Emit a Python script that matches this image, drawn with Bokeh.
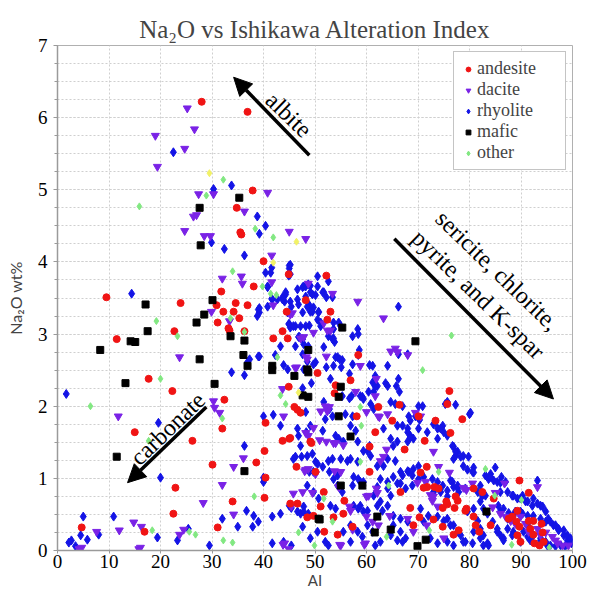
from bokeh.plotting import figure
from bokeh.models import Range1d, SingleIntervalTicker, Legend, LegendItem, Arrow, NormalHead, Label
from bokeh.embed import file_html
from bokeh.resources import INLINE

# ---------------- data (AI, Na2O wt%) ----------------
andesite = [
    (28.0,6.22),(36.9,6.08),(37.9,4.99),(34.8,4.75),(35.5,4.41),(35.7,4.38),(40.0,4.01),(44.9,3.83),
    (38.1,3.66),(31.8,3.59),(9.5,3.51),(11.5,2.93),(23.9,3.43),(22.7,3.04),(30.9,3.40),(31.1,3.16),
    (32.2,3.31),(33.2,3.08),(33.4,3.05),(34.6,3.43),(34.2,3.31),(35.3,3.22),(36.9,3.40),(36.3,3.04),
    (17.7,2.38),(22.3,2.21),(32.4,2.09),(15.0,1.64),(26.2,1.52),(32.0,1.69),(30.1,1.19),(22.9,0.87),
    (22.5,0.51),(4.7,0.32),(16.9,0.26),(31.1,0.32),(34.0,0.68),(38.6,1.22),(40.2,1.38),(40.4,1.01),
    (40.2,0.73),(40.4,1.77),(43.7,1.52),(45.0,1.55),(46.0,1.99),(46.6,1.95),(44.9,2.27),(46.4,1.16),
    (46.6,0.65),(48.5,0.46),(49.7,0.48),(49.1,1.51),(49.3,1.49),(50.1,1.09),(44.5,3.31),(43.7,3.04),
    (44.7,2.94),(41.9,2.94),(48.2,3.47),(52.2,3.81),(53.0,3.31),(52.4,3.20),(58.4,2.71),(50.5,2.46),
    (56.9,2.36),(54.0,2.29),(53.8,2.18),(76.1,2.21),(62.3,1.99),(66.4,2.02),(73.4,1.80),(78.6,1.82),
    (70.1,1.86),(58.1,1.86),(61.7,1.64),(76.3,1.63),(71.3,1.52),(67.4,1.40),(60.6,1.09),(71.7,1.16),
    (51.7,0.81),(55.7,0.69),(51.1,0.61),(53.6,0.46),(55.5,0.51),(57.3,0.33),(66.6,0.81),(68.5,0.59),
    (69.1,0.35),(74.8,0.59),(75.7,0.64),(79.4,0.58),(80.8,0.86),(71.8,0.88),(80.8,0.47),(84.7,0.72),
    (89.7,0.97),(91.5,0.80),(92.4,0.41),(94.0,0.37),(93.6,0.07),(94.4,0.12),(87.6,0.44),(82.5,0.81),
    (47.2,1.91),(65.0,1.80),(60.6,1.44),(45.2,1.56),(75.7,2.03),(70.5,1.08),(71.1,0.87),(73.2,0.88),
    (74.0,0.86),(75.5,0.68),(77.7,0.69),(77.1,0.59),(51.8,0.26),(54.4,0.22),(70.3,0.46),(73.0,0.43),
    (76.9,0.22),(45.2,0.65),(77.3,0.75),(79.2,0.55),(81.2,0.35),(84.1,0.35),(88.3,0.47),(89.1,0.40),
    (89.7,0.33),(89.3,0.21),(89.9,0.12),(91.8,0.30),(92.4,0.22),(92.6,0.10),(94.2,0.25),(89.3,0.55),
    (91.5,0.41),(77.9,0.28),(81.9,0.26),(74.8,0.33),
]

dacite = [
    (25.2,6.13),(26.6,5.84),(19.0,5.75),(24.7,5.57),(19.4,5.32),(27.4,4.94),(30.3,4.94),(40.8,4.96),
    (36.3,4.70),(26.4,4.63),(27.0,4.65),(24.7,4.43),(28.5,4.36),(29.7,4.36),(45.0,4.42),(48.2,4.32),
    (41.6,4.09),(32.0,3.77),(35.7,3.80),(35.9,3.70),(41.6,3.72),(48.7,3.70),(29.9,3.31),(33.4,3.18),
    (23.7,2.68),(11.8,1.86),(30.3,2.07),(30.5,1.98),(31.5,1.91),(36.1,1.28),(34.2,1.16),(32.0,0.91),
    (28.3,0.66),(34.2,0.50),(14.8,0.39),(16.3,0.33),(12.0,0.28),(7.6,0.26),(4.7,0.04),(16.1,0.04),
    (23.7,0.22),(24.5,0.29),(43.9,1.86),(46.4,2.54),(43.7,2.24),(44.1,0.10),(47.6,0.81),(45.4,0.61),
    (48.2,1.63),(48.7,1.59),(48.7,1.13),(51.1,1.93),(49.7,3.02),(48.5,2.65),(41.9,3.40),(45.6,3.29),
    (47.2,2.94),(47.8,2.96),(53.4,3.56),(58.3,3.45),(63.3,3.22),(52.4,3.05),(53.0,3.05),(51.7,3.15),
    (45.2,3.27),(52.2,2.69),(48.3,2.68),(58.8,2.56),(64.7,2.76),(65.6,2.80),(66.0,2.75),(68.0,2.71),
    (46.2,2.53),(61.9,2.38),(61.7,2.14),(57.9,2.20),(62.5,1.85),(64.1,1.89),(52.2,1.51),(53.6,1.49),
    (55.5,1.46),(48.2,1.12),(54.6,0.88),(63.9,1.40),(63.3,1.30),(74.0,1.16),(55.0,0.07),(60.4,0.76),
    (60.0,0.47),(61.2,0.40),(64.5,0.48),(68.0,0.44),(69.1,0.26),(72.8,0.69),(73.8,0.61),(80.6,0.93),
    (86.8,0.93),(93.2,0.88),(76.1,1.08),(52.0,2.00),(52.8,1.99),(52.4,1.93),(60.0,1.92),(62.3,1.86),
    (50.9,1.53),(54.0,1.49),(49.7,1.70),(48.0,1.10),(50.1,1.06),(53.8,1.10),(55.0,1.09),(62.7,1.24),
    (61.9,0.86),(62.1,0.80),(45.8,0.79),(49.5,0.80),(60.0,0.75),(56.7,0.61),(56.9,0.55),(62.3,0.35),
    (57.3,0.29),(59.8,0.10),(54.8,0.08),(69.9,0.94),(71.5,0.95),(72.4,0.77),(73.0,0.75),(69.5,1.91),
    (70.5,1.86),(73.0,1.37),(71.7,0.35),(78.8,0.87),(79.4,0.84),(85.0,0.80),(85.2,0.80),(75.0,0.17),
    (84.5,0.60),(86.0,0.51),(87.0,0.47),(88.0,0.41),(88.9,0.37),(89.9,0.47),(90.9,0.37),(91.5,0.26),
    (93.2,0.30),(93.8,0.21),(94.8,0.25),(96.1,0.19),(96.7,0.14),(97.1,0.10),(98.1,0.07),(99.2,0.07),
    (15.8,0.02),(43.8,0.08),(44.9,0.02),(59.6,0.08),(4.2,0.02),
]

rhyolite = [
    (22.5,5.52),(30.3,5.01),(33.8,5.06),(30.3,4.96),(38.8,4.63),(40.4,4.50),(39.2,4.39),(29.9,4.27),
    (32.4,4.18),(36.3,4.09),(41.6,3.92),(41.4,3.85),(40.4,3.85),(45.0,3.95),(45.0,3.91),(40.8,3.65),
    (46.6,3.62),(47.6,3.65),(47.8,3.66),(50.5,3.80),(50.5,3.66),(14.4,3.56),(44.9,3.81),(39.0,3.34),
    (39.2,3.30),(41.7,3.48),(42.7,3.48),(43.7,3.51),(44.3,3.55),(44.1,3.45),(40.8,3.38),(46.6,3.48),
    (48.2,3.52),(44.9,3.14),(45.2,3.09),(43.3,2.83),(46.2,2.83),(47.0,2.96),(42.3,2.71),(39.0,2.69),
    (45.2,3.96),(45.2,3.83),(52.6,3.73),(49.1,3.58),(50.1,3.54),(51.7,3.58),(48.9,3.40),(49.7,3.37),
    (49.5,3.31),(50.7,3.31),(50.5,3.20),(46.2,3.11),(48.9,3.12),(51.1,3.11),(53.6,3.07),(55.0,3.11),
    (57.3,2.97),(66.2,3.38),(58.6,2.78),(58.4,2.71),(54.4,2.68),(55.3,2.64),(50.1,2.61),(49.7,2.58),
    (57.3,2.58),(60.6,2.57),(61.2,2.56),(64.1,2.56),(53.6,2.56),(49.3,2.32),(47.6,2.25),(53.0,2.38),
    (61.7,2.42),(56.7,2.45),(63.7,2.32),(64.1,2.28),(66.2,2.38),(65.8,2.28),(66.4,2.20),(61.4,2.20),
    (62.1,2.28),(60.4,2.20),(57.1,2.14),(55.3,2.14),(58.8,2.14),(49.1,3.67),(49.5,3.55),(51.5,3.58),
    (52.2,3.51),(53.4,3.51),(47.6,3.30),(47.2,3.11),(48.2,3.11),(51.1,3.16),(53.6,3.16),(54.6,3.16),
    (53.6,2.94),(53.8,2.89),(47.6,2.72),(48.5,2.62),(47.8,2.51),(51.7,2.82),(54.0,2.68),(54.8,2.65),
    (55.1,2.54),(52.2,2.54),(66.2,2.72),(68.0,2.72),(61.2,2.33),(61.7,2.27),(59.2,2.13),(60.8,2.03),
    (61.4,1.96),(64.7,2.06),(65.6,2.03),(67.0,2.00),(68.2,1.86),(68.5,1.80),(70.1,2.00),(70.9,2.00),
    (66.0,1.73),(67.0,1.73),(68.0,1.69),(68.5,1.59),(69.1,1.55),(68.0,1.51),(70.1,1.69),(71.8,1.64),
    (73.4,1.78),(75.0,1.64),(73.8,1.55),(76.9,1.44),(77.7,1.37),(78.8,1.31),(80.0,1.89),(75.7,2.06),
    (77.3,2.02),(78.8,1.17),(79.6,1.12),(80.8,1.08),(83.1,1.04),(83.7,0.99),(84.7,0.97),(85.4,0.95),
    (86.2,1.02),(87.0,0.95),(86.0,0.81),(87.4,0.81),(88.5,0.76),(89.3,0.72),(90.3,0.76),(90.9,0.68),
    (93.2,0.97),(92.4,0.72),(93.8,0.62),(94.8,0.54),(95.3,0.44),(96.3,0.35),(97.3,0.28),(98.3,0.21),
    (99.0,0.14),(99.8,0.10),(58.3,3.07),(58.4,3.00),(52.6,2.97),(53.4,2.93),
    (48.2,1.92),(49.1,1.73),(51.5,1.66),(52.0,1.82),(53.4,1.86),(55.9,1.89),(57.3,1.86),(56.9,1.73),
    (57.9,1.66),(54.0,1.59),(54.6,1.55),(55.5,1.51),(49.5,1.34),(48.5,1.31),(50.5,1.20),(51.5,1.16),
    (52.6,1.24),(53.4,1.27),(56.9,1.27),(58.3,1.23),(59.4,1.38),(60.6,1.45),(60.8,1.31),(62.1,1.17),
    (63.3,1.17),(64.1,1.27),(65.2,1.45),(65.6,1.24),(68.0,1.10),(66.6,1.09),(68.9,1.04),(70.1,0.99),
    (57.5,1.02),(58.4,0.99),(57.3,0.90),(59.4,0.95),(62.7,0.99),(62.1,0.88),(64.1,0.86),(64.7,0.76),
    (66.0,0.93),(53.6,0.99),(54.4,0.90),(55.3,0.81),(48.5,0.90),(49.7,0.81),(50.7,0.72),(53.0,0.62),
    (54.0,0.58),(57.5,0.62),(58.4,0.58),(59.4,0.54),(62.1,0.62),(63.1,0.55),(60.2,0.35),(61.2,0.26),
    (65.2,0.35),(66.6,0.26),(67.0,0.12),(55.5,0.26),(56.9,0.12),(50.5,0.26),(52.0,0.12),(62.7,0.12),
    (61.7,0.07),(70.5,0.58),(72.0,0.48),(71.1,0.40),(73.0,0.81),(74.4,0.81),(75.7,0.75),(76.7,0.95),
    (77.7,0.86),(75.7,0.44),(76.9,0.35),(77.7,0.26),(78.8,0.12),(79.6,0.54),(80.8,0.58),(82.1,0.90),
    (83.1,0.76),(80.8,0.26),(82.1,0.17),(83.5,0.10),(86.0,0.54),(87.4,0.44),(88.5,0.48),(89.9,0.54),
    (85.4,0.26),(86.6,0.17),(88.5,0.26),(89.9,0.12),(91.3,0.35),(92.4,0.21),(93.8,0.14),(95.1,0.07),
    (51.7,2.06),(52.8,1.96),(56.7,2.11),(59.4,2.10),(69.5,1.86),(70.3,1.81),(73.0,1.75),(73.8,1.69),
    (74.8,1.73),(76.7,1.45),(76.9,1.27),(77.3,1.31),(68.0,1.64),(68.5,1.57),(63.3,1.69),(64.7,1.55),
    (66.0,1.51),(58.3,1.51),(60.2,1.38),(55.0,1.27),(56.3,1.24),(47.2,1.45),(46.2,1.30),(50.1,1.23),
    (52.8,1.09),(54.4,1.04),(58.8,0.95),(64.1,0.95),(65.2,1.02),(67.0,1.04),(68.2,1.09),(69.1,1.13),
    (70.1,1.17),(66.6,0.93),(67.6,0.86),(68.9,0.90),(71.1,1.02),(72.8,0.99),(73.8,0.95),(74.8,0.90),
    (75.7,0.83),(76.9,0.88),(77.9,0.81),(61.4,0.76),(62.7,0.68),(64.1,0.62),(58.8,0.62),(60.2,0.55),
    (65.2,0.48),(66.6,0.44),(68.0,0.40),(73.8,0.47),(75.0,0.41),(76.3,0.35),(46.6,0.54),(47.8,0.61),
    (56.9,0.35),(58.3,0.26),(59.2,0.19),(64.7,0.21),(66.0,0.14),(67.6,0.17),(72.4,0.17),(73.8,0.10),
    (75.7,0.12),(76.9,0.07),(49.1,0.17),(52.6,0.07),
    (75.3,2.03),(80.2,1.91),(74.4,1.69),(75.7,1.59),(77.3,1.37),(78.3,1.30),(79.8,1.30),(80.8,1.15),
    (80.6,1.09),(85.0,1.15),(84.1,1.06),(84.1,1.02),(86.0,0.94),(76.3,0.97),(77.7,0.90),(79.2,0.86),
    (81.6,0.81),(82.5,0.76),(88.3,0.76),(89.9,0.72),(91.3,0.68),(92.2,0.62),(93.2,0.65),(94.2,0.61),
    (82.1,0.68),(82.7,0.58),(83.5,0.51),(85.6,0.62),(86.6,0.58),(87.6,0.52),(88.9,0.54),(90.3,0.51),
    (91.3,0.48),(92.4,0.48),(93.8,0.44),(94.8,0.40),(95.7,0.40),(96.7,0.35),(97.3,0.30),(98.3,0.28),
    (99.0,0.21),(99.6,0.17),(99.8,0.12),(81.6,0.41),(82.1,0.30),(82.7,0.21),(84.5,0.40),(85.4,0.30),
    (86.0,0.21),(86.6,0.14),(87.4,0.30),(88.3,0.21),(90.5,0.26),(91.3,0.19),(91.8,0.14),(93.8,0.17),
    (94.8,0.12),(95.7,0.07),(96.7,0.06),(97.7,0.07),(98.6,0.06),(78.3,0.21),(79.2,0.12),(80.6,0.10),
    (82.7,0.07),(83.7,0.07),
    (1.7,2.17),(19.6,1.77),(20.0,1.01),(5.0,0.47),(10.9,0.47),(4.5,0.21),(2.7,0.14),(3.5,0.06),
    (5.8,0.15),(8.0,0.22),(19.4,0.18),(23.3,0.14),(25.4,0.30),(29.5,0.07),(32.0,0.44),(35.0,0.33),
    (36.3,1.45),(36.7,0.55),(38.1,0.48),(39.0,0.40),(37.9,0.33),(33.8,2.47),(36.3,2.43),(37.3,2.65),
    (36.9,2.61),(39.2,2.69),(40.0,1.86),(41.9,1.88),(43.3,1.73),(40.0,0.95),(40.0,1.01),(41.7,0.47),
    (43.3,0.51),(45.0,0.62),(45.4,0.59),(47.2,0.51),(47.6,0.33),(41.7,0.10),(43.9,0.12),(45.4,0.07),
    (46.6,1.69),(46.8,1.59),(48.3,1.64),(45.8,1.27),(47.4,1.30),(49.7,1.09),(48.9,1.09),(43.9,2.57),
    (44.7,2.51),(46.8,2.96),(47.6,2.93),(39.2,3.36),(38.8,3.25),(40.8,3.66),(41.6,3.49),(44.3,3.58),
    (43.7,3.48),(45.2,3.45),(45.4,3.38),(44.7,3.30),(46.8,3.41),(48.2,3.66),(48.7,3.69),(48.5,3.38),
    (49.1,3.31),(50.7,3.30),(45.0,3.14),(45.8,3.11),(47.8,2.86),(48.7,2.83),(47.8,0.54),(48.7,0.51),
    (2.2,0.11),
]

mafic = [
    (8.3,2.78),(11.5,1.30),(13.2,2.32),(14.2,2.90),(15.1,2.89),(17.1,3.41),(17.5,3.04),(27.0,3.16),
    (27.6,2.65),(27.6,4.75),(27.8,4.23),(28.5,3.27),(30.1,3.47),(30.5,2.31),(33.6,2.97),(35.3,4.89),
    (36.1,2.71),(36.3,2.91),(36.3,1.10),(36.9,2.56),(41.7,2.56),(41.7,2.50),(46.0,2.42),(47.6,2.15),
    (48.7,2.13),(48.7,2.78),(48.5,2.51),(48.7,2.47),(50.7,0.44),(50.9,0.43),(55.3,3.09),(69.5,2.90),
    (55.0,2.27),(54.6,2.13),(54.6,1.86),(56.9,1.58),(55.0,0.90),(59.2,0.90),(62.1,0.47),(64.7,0.29),
    (61.6,0.25),(71.5,0.15),(69.9,0.06),(83.3,0.54),
]

other = [
    (6.4,2.00),(15.9,4.77),(17.7,1.52),(18.4,0.28),(19.2,3.18),(20.0,2.38),(23.3,2.97),(25.6,0.26),
    (26.8,0.22),(28.9,4.92),(32.0,1.83),(32.2,5.14),(32.2,0.14),(33.6,3.22),(34.0,3.87),(34.0,0.11),
    (36.3,3.03),(38.2,0.75),(38.4,4.46),(39.8,3.66),(41.4,3.56),(41.9,4.34),(42.5,3.54),(42.7,2.68),
    (43.3,2.15),(44.3,2.03),(46.8,0.25),(49.9,0.07),(51.7,0.72),(53.4,0.40),(58.8,1.99),(59.0,1.73),
    (58.8,1.23),(63.9,0.19),(64.3,0.90),(70.9,2.50),(72.2,0.28),(74.0,1.09),(76.5,2.98),(83.1,1.13),
    (84.9,0.76),(88.2,0.08),(90.1,0.70),(95.5,0.04),
]

other_yellow = [(29.5,5.23),(41.9,3.99),(46.4,4.28),(46.8,2.19)]

series_names = ["andesite", "dacite", "rhyolite", "mafic", "other"]

# ---------------- figure ----------------
p = figure(width=593, height=591, output_backend="svg", toolbar_location=None,
           x_range=Range1d(0, 100), y_range=Range1d(0, 7),
           min_border_left=57, min_border_right=21, min_border_top=45, min_border_bottom=39)
p.background_fill_color = "white"
p.border_fill_color = "white"
p.outline_line_color = "#b0b0b0"
p.outline_line_width = 1

p.title.text = "Na\u2082O vs Ishikawa Alteration Index"
p.title.text_font = "Liberation Serif"
p.title.text_font_size = "25px"
p.title.text_font_style = "normal"
p.title.align = "center"
p.title.standoff = 6

xt = SingleIntervalTicker(interval=10, num_minor_ticks=0)
yt = SingleIntervalTicker(interval=1, num_minor_ticks=4)
p.xaxis.ticker = xt
p.yaxis.ticker = yt
p.xgrid.ticker = xt
p.ygrid.ticker = yt

for g in (p.xgrid, p.ygrid):
    g.grid_line_color = "#cfcfcf"
    g.grid_line_dash = "2 2"
    g.grid_line_width = 1
p.ygrid.minor_grid_line_color = "#cfcfcf"
p.ygrid.minor_grid_line_dash = "2 2"

for ax in (p.xaxis, p.yaxis):
    ax.axis_line_color = "#9a9a9a"
    ax.axis_line_width = 1.5
    ax.major_tick_line_color = "#9a9a9a"
    ax.minor_tick_line_color = "#9a9a9a"
    ax.major_tick_in = 0
    ax.minor_tick_in = 0
    ax.minor_tick_out = 3
    ax.major_label_text_font = "Liberation Serif"
    ax.major_label_text_color = "black"

p.xaxis.major_tick_out = 3
p.yaxis.major_tick_out = 4
p.xaxis.major_label_text_font_size = "19px"
p.yaxis.major_label_text_font_size = "19px"
p.xaxis.major_label_standoff = 1
p.yaxis.major_label_standoff = 6

p.xaxis.axis_label = "AI"
p.xaxis.axis_label_text_font = "Lato"
p.xaxis.axis_label_text_font_size = "15px"
p.xaxis.axis_label_text_font_style = "normal"
p.xaxis.axis_label_standoff = 0

p.yaxis.axis_label = "Na\u2082O wt%"
p.yaxis.axis_label_text_font = "Lato"
p.yaxis.axis_label_text_font_size = "16px"
p.yaxis.axis_label_text_font_style = "normal"
p.yaxis.axis_label_standoff = 10

def xs(pts):
    return [a for a, b in pts]

def ys(pts):
    return [b for a, b in pts]

r_rhy = p.scatter(xs(rhyolite), ys(rhyolite), marker="diamond", size=9,
                  fill_color="#1414e6", line_color="#1414e6")
r_dac = p.scatter(xs(dacite), ys(dacite), marker="inverted_triangle", size=8,
                  fill_color="#7a22e6", line_color="#7a22e6")
r_and = p.scatter(xs(andesite), ys(andesite), marker="circle", size=7,
                  fill_color="#f01414", line_color="#f01414")
r_maf = p.scatter(xs(mafic), ys(mafic), marker="square", size=7,
                  fill_color="black", line_color="black")
r_oth = p.scatter(xs(other), ys(other), marker="diamond", size=7,
                  fill_color="#82e882", line_color="#82e882")
p.scatter(xs(other_yellow), ys(other_yellow), marker="diamond", size=7,
          fill_color="#f2f266", line_color="#f2f266")

legend = Legend(items=[LegendItem(label=n, renderers=[r]) for n, r in
                       zip(series_names, [r_and, r_dac, r_rhy, r_maf, r_oth])],
                location="top_right")
legend.margin = 6
legend.padding = 6
legend.spacing = 0
legend.label_height = 12
legend.glyph_height = 12
legend.glyph_width = 16
legend.label_width = 82
legend.label_standoff = 1
legend.label_text_font = "Liberation Serif"
legend.label_text_font_size = "18px"
legend.border_line_color = "#8a8a8a"
legend.border_line_width = 1.5
legend.background_fill_color = "white"
legend.background_fill_alpha = 1
p.add_layout(legend)

# ---------------- annotations ----------------
head = dict(size=18, fill_color="black", line_color="black")
p.add_layout(Arrow(end=NormalHead(**head), x_start=48.9, y_start=5.48, x_end=34.2, y_end=6.56,
                   line_width=3.5, line_color="black"))
p.add_layout(Arrow(end=NormalHead(**head), x_start=28.9, y_start=1.99, x_end=13.6, y_end=0.94,
                   line_width=3.5, line_color="black"))
p.add_layout(Arrow(end=NormalHead(**head), x_start=65.4, y_start=4.32, x_end=96.3, y_end=2.10,
                   line_width=3.5, line_color="black"))

lab = dict(text_font="Liberation Serif", text_font_size="24px", text_align="center",
           text_baseline="middle", angle_units="deg", text_color="black")
p.add_layout(Label(x=44.9, y=6.04, text="albite", angle=-44, **lab))
p.add_layout(Label(x=21.4, y=1.69, text="carbonate", angle=44, **lab))
p.add_layout(Label(x=85.4, y=3.88, text="sericite, chlorite,", angle=-44, **lab))
p.add_layout(Label(x=81.7, y=3.55, text="pyrite, and K-spar", angle=-44, **lab))

open("out.html", "w").write(file_html(p, INLINE))
